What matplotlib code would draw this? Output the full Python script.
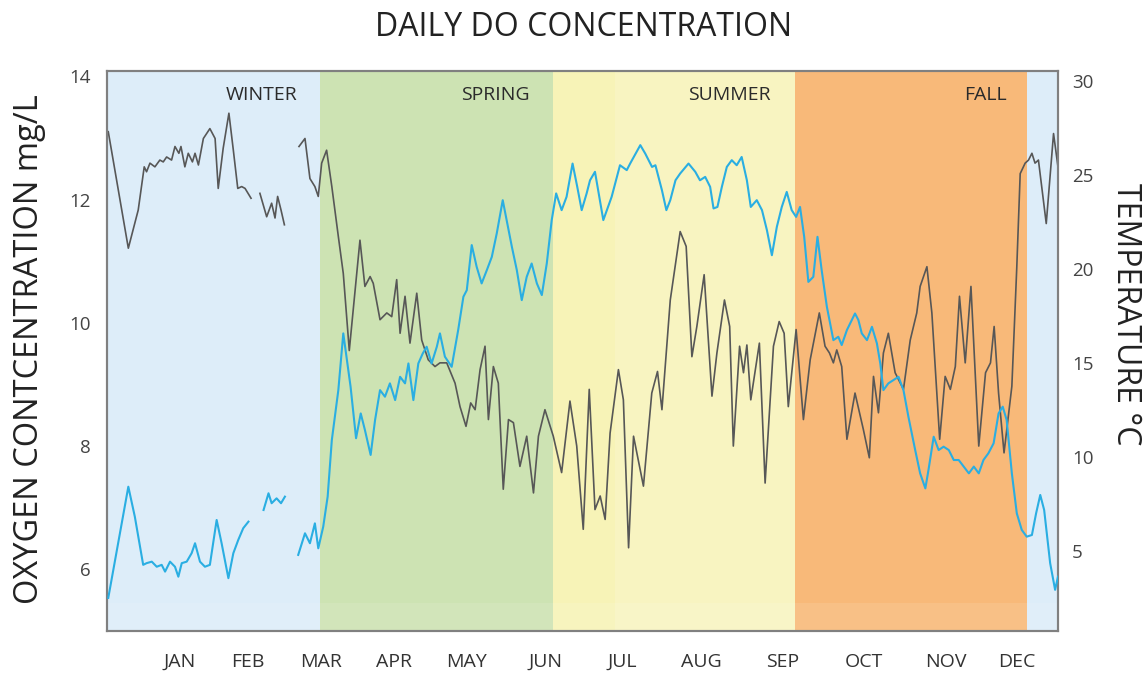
import numpy as np
import matplotlib
matplotlib.use("Agg")
import matplotlib.pyplot as plt

plt.rcParams['font.family'] = ['Open Sans', 'DejaVu Sans']

nan = np.nan

# daily dissolved oxygen (mg/L), x = day of year (nan = missing data)
do_days = [0.5, 8.2, 12.0, 14.3, 15.2, 16.5, 18.4, 20.3, 21.6, 22.9, 24.8, 26.1, 27.6, 28.4,
           29.9, 31.2, 32.8, 33.8, 35.1, 37.0, 39.5, 41.5, 42.7, 44.6, 46.8, 48.5, 50.2, 51.7,
           53.0, 55.3, 57.0, 58.7, 61.3, 63.2, 64.5, 65.5, 66.8, 68.1, 70.0, 73.7, 76.0, 77.9,
           79.8, 81.1, 82.4, 84.3, 86.3, 88.8, 90.7, 93.0, 97.1, 99.0, 101.0, 102.2, 104.8,
           107.4, 109.3, 111.2, 112.5, 114.4, 116.3, 118.9, 120.8, 123.3, 125.9, 127.8, 130.4,
           133.6, 135.5, 137.8, 139.6, 141.3, 143.2, 145.1, 146.4, 148.3, 150.2, 152.1, 154.1,
           156.0, 158.5, 161.1, 163.7, 165.6, 168.1, 171.3, 174.5, 177.7, 180.3, 182.8, 185.1,
           187.3, 189.3, 191.2, 193.1, 196.3, 198.2, 200.2, 202.1, 205.9, 209.1, 211.3, 213.0,
           216.2, 220.0, 222.3, 224.5, 226.4, 229.2, 232.2, 234.1, 237.0, 239.0, 240.4, 242.8,
           244.3, 245.6, 247.1, 250.4, 252.6, 255.8, 258.0, 259.9, 261.5, 264.5, 267.3, 269.9,
           273.4, 275.6, 277.3, 278.8, 280.1, 282.0, 284.0, 287.1, 290.3, 292.6, 294.2, 296.1,
           298.0, 299.9, 302.5, 305.7, 308.3, 310.8, 312.1, 314.7, 316.6, 319.6, 321.7, 323.7,
           325.6, 327.2, 329.4, 331.6, 334.6, 337.2, 339.1, 340.5, 342.2, 344.3, 347.3, 349.2,
           350.5, 352.4, 353.7, 355.0, 356.2, 357.5, 360.5, 363.3, 365.0]
do_vals = [13.10, 11.21, 11.83, 12.53, 12.45, 12.59, 12.53, 12.64, 12.61, 12.69, 12.64, 12.86, 12.75, 12.86,
           12.53, 12.75, 12.61, 12.75, 12.56, 12.99, 13.15, 12.99, 12.18, 12.83, 13.40, 12.80, 12.18, 12.21,
           12.18, 12.02, nan, 12.10, 11.72, 11.94, 11.70, 12.05, 11.83, 11.59, nan, 12.86, 12.99, 12.34,
           12.21, 12.05, 12.59, 12.80, 12.21, 11.40, 10.80, 9.55, 11.34, 10.59, 10.75, 10.64, 10.05,
           10.16, 10.10, 10.70, 9.83, 10.43, 9.67, 10.48, 9.72, 9.40, 9.29, 9.35, 9.35,
           9.02, 8.64, 8.32, 8.70, 8.59, 9.24, 9.62, 8.43, 9.29, 9.02, 7.30, 8.43,
           8.38, 7.67, 8.16, 7.24, 8.16, 8.59, 8.16, 7.57, 8.73, 8.00, 6.65, 8.92,
           6.97, 7.19, 6.81, 8.21, 9.24, 8.75, 6.35, 8.16, 7.35, 8.86, 9.21, 8.59,
           10.37, 11.48, 11.24, 9.45, 9.94, 10.78, 8.81, 9.51, 10.37, 9.94, 8.00, 9.62,
           9.19, 9.64, 8.75, 9.67, 7.40, 9.62, 10.02, 9.83, 8.64, 9.89, 8.43, 9.40,
           10.16, 9.62, 9.51, 9.35, 9.56, 9.29, 8.11, 8.86, 8.27, 7.81, 9.13, 8.54,
           9.51, 9.83, 9.19, 8.92, 9.72, 10.16, 10.59, 10.91, 10.16, 8.11, 9.13, 8.92,
           9.29, 10.43, 9.35, 10.59, 8.00, 9.19, 9.35, 9.94, 8.86, 7.89, 8.97, 10.91,
           12.42, 12.59, 12.64, 12.75, 12.59, 12.64, 11.61, 13.07, 12.53]

# daily water temperature (deg C)
temp_days = [0.5, 8.2, 10.7, 13.9, 15.2, 17.2, 19.1, 21.0, 22.3, 24.2, 26.1, 27.4, 28.7, 30.6,
             32.5, 33.8, 35.7, 37.6, 39.5, 42.1, 44.0, 46.6, 48.5, 50.4, 52.3, 54.3, 57.0, 60.1,
             62.0, 63.2, 65.1, 66.8, 68.3, 70.0, 73.4, 76.0, 77.9, 79.8, 81.1, 83.0, 84.7, 86.3,
             88.8, 90.7, 93.5, 95.6, 97.4, 99.0, 101.2, 102.9, 104.8, 106.7, 108.6, 110.6, 112.5,
             114.4, 115.7, 117.6, 119.5, 121.2, 122.7, 124.6, 126.6, 127.8, 129.7, 132.3, 134.8,
             136.8, 138.1, 140.0, 141.9, 143.8, 145.8, 147.7, 149.6, 151.9, 153.4, 155.4, 157.3,
             159.2, 161.1, 163.0, 165.0, 166.9, 168.8, 170.7, 172.4, 174.5, 176.4, 178.7, 180.5,
             182.2, 184.1, 185.4, 187.3, 190.5, 193.7, 196.9, 199.5, 200.8, 204.7, 206.6, 209.2,
             210.5, 213.0, 214.7, 216.2, 218.2, 220.0, 223.2, 225.8, 227.6, 229.6, 231.5, 232.8,
             234.3, 236.0, 237.9, 239.8, 241.7, 243.6, 245.6, 247.1, 249.4, 251.4, 253.3, 255.2,
             257.1, 259.0, 260.9, 262.8, 264.5, 266.0, 267.6, 269.2, 271.1, 272.7, 274.3, 276.3,
             278.8, 280.7, 282.0, 284.0, 287.1, 288.4, 289.7, 291.7, 293.6, 295.5, 296.8, 298.0,
             299.9, 301.9, 303.8, 305.7, 307.6, 310.2, 312.1, 314.1, 315.3, 317.3, 319.2, 321.1,
             323.1, 325.0, 326.9, 328.8, 330.8, 332.7, 334.6, 336.4, 338.3, 340.3, 342.2, 343.8,
             345.3, 347.3, 349.2, 351.1, 353.0, 355.0, 356.6, 358.2, 359.7, 362.0, 363.9, 365.0]
temp_vals = [2.5, 8.42, 6.82, 4.26, 4.35, 4.43, 4.16, 4.26, 3.90, 4.43, 4.16, 3.63, 4.35, 4.43,
             4.88, 5.41, 4.43, 4.16, 4.26, 6.65, 5.41, 3.55, 4.88, 5.59, 6.21, 6.56, nan, 7.18,
             8.07, 7.54, 7.80, 7.54, 7.89, nan, 4.79, 5.94, 5.41, 6.47, 5.14, 6.29, 7.89, 10.90,
             13.56, 16.58, 13.74, 11.00, 12.32, 11.44, 10.11, 11.97, 13.56, 13.21, 13.92, 13.03, 14.27,
             13.92, 14.98, 13.03, 14.98, 15.51, 15.87, 14.98, 15.87, 16.58, 15.34, 14.80, 16.76,
             18.53, 18.88, 21.28, 20.12, 19.24, 19.95, 20.65, 21.90, 23.67, 22.61, 21.19, 19.95,
             18.35, 19.59, 20.30, 19.24, 18.62, 20.30, 22.61, 24.03, 23.14, 23.85, 25.62, 24.38,
             23.14, 24.03, 24.73, 25.18, 22.61, 23.85, 25.53, 25.27, 25.62, 26.60, 26.15, 25.44,
             25.53, 24.20, 23.14, 23.67, 24.73, 25.09, 25.62, 25.18, 24.73, 24.91, 24.38, 23.23,
             23.31, 24.38, 25.44, 25.80, 25.53, 25.97, 24.73, 23.31, 23.67, 23.14, 22.07, 20.74,
             22.25, 23.31, 24.11, 23.14, 22.78, 23.31, 21.72, 19.32, 19.59, 21.72, 19.95, 18.00,
             16.22, 16.40, 15.96, 16.76, 17.64, 17.29, 16.58, 16.22, 16.93, 16.05, 14.98, 13.56,
             13.92, 14.10, 14.27, 13.56, 12.14, 10.37, 9.13, 8.33, 9.31, 11.08, 10.37, 10.55,
             10.37, 9.84, 9.84, 9.49, 9.13, 9.49, 9.13, 9.84, 10.20, 10.73, 12.32, 12.68,
             11.97, 9.13, 7.00, 6.12, 5.76, 5.85, 7.00, 7.98, 7.18, 4.35, 2.93, 3.63]

# seasons (start day, end day)
seasons = ['WINTER', 'SPRING', 'SUMMER', 'FALL']
season_start = [0, 81.8, 171.2, 264.1]
season_end = [81.8, 171.2, 264.1, 353.2]
season_colors = ['#ddedf9', '#cde3b3', '#f8f4c1', '#f8b979']
season_label_x = [59.5, 149, 239, 337]

months = ['JAN', 'FEB', 'MAR', 'APR', 'MAY', 'JUN', 'JUL', 'AUG', 'SEP', 'OCT', 'NOV', 'DEC']
month_pos = [28.0, 54.1, 82.1, 110.2, 137.8, 168.5, 197.7, 228.0, 259.5, 290.6, 322.1, 349.3]

fig = plt.figure(figsize=(11.44, 6.99), dpi=100)
ax = fig.add_axes([0.0935, 0.0973, 0.8313, 0.8007])
ax2 = ax.twinx()

for s, e, c in zip(season_start, season_end, season_colors):
    ax.axvspan(s, e, color=c, lw=0, zorder=0)
ax.axvspan(353.2, 365, color=season_colors[0], lw=0, zorder=0)
# slightly stronger yellow at the start of summer
ax.axvspan(171.2, 195, color='#f7f3b7', lw=0, zorder=0.2)
ax.axhspan(5.0, 5.45, color='white', alpha=0.1, lw=0, zorder=0.5)

for name, x in zip(seasons, season_label_x):
    ax.text(x, 0.957, name, transform=ax.get_xaxis_transform(), ha='center', va='center',
            fontsize=14, color='#2b2b2b')

ax.plot(do_days, do_vals, color='#575757', lw=1.2, zorder=3)
ax2.plot(temp_days, temp_vals, color='#2aaee2', lw=1.5, zorder=3)

ax.set_xlim(0, 365)
ax.set_ylim(5.0, 14.08)
ax2.set_ylim(0.74, 30.53)
ax.set_yticks([6, 8, 10, 12, 14])
ax2.set_yticks([5, 10, 15, 20, 25, 30])
ax.set_xticks(month_pos)
ax.set_xticklabels(months)

ax.tick_params(axis='x', length=0, pad=16, labelsize=14, labelcolor='#333333')
ax.tick_params(axis='y', length=0, pad=12, labelsize=13.5, labelcolor='#444444')
ax2.tick_params(axis='y', length=0, pad=10, labelsize=13.5, labelcolor='#444444')

for a in (ax, ax2):
    for sp in a.spines.values():
        sp.set_color('#808080')
        sp.set_linewidth(1.5)

fig.text(0.51, 0.96, 'DAILY DO CONCENTRATION', ha='center', va='center', fontsize=23, color='#222222')
fig.text(0.026, 0.5, 'OXYGEN CONTCENTRATION mg/L', rotation=90, ha='center', va='center',
         fontsize=23.5, color='#222222')
fig.text(0.984, 0.55, 'TEMPERATURE °C', rotation=270, ha='center', va='center',
         fontsize=23, color='#222222')

fig.savefig('out.png', dpi=100)
